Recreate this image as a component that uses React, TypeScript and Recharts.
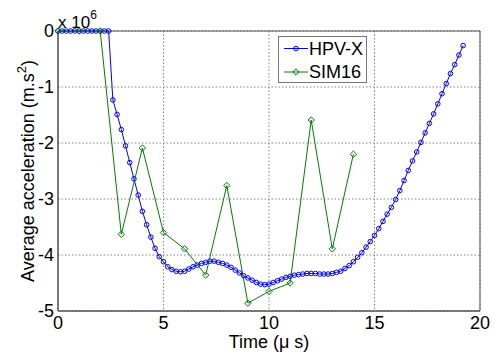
import React from 'react';
import {
  LineChart,
  Line,
  XAxis,
  YAxis,
  CartesianGrid,
  Legend,
  ReferenceArea,
  Customized,
} from 'recharts';

// time in microseconds, acceleration in units of 10^6 m.s^-2
const hpvTime = [
  0, 0.2, 0.4, 0.6, 0.8, 1.0, 1.2, 1.4, 1.6, 1.8, 2.0, 2.2, 2.4, 2.6, 2.8, 3.0,
  3.2, 3.4, 3.6, 3.8, 4.0, 4.2, 4.4, 4.6, 4.8, 5.0, 5.2, 5.4, 5.6, 5.8, 6.0,
  6.2, 6.4, 6.6, 6.8, 7.0, 7.2, 7.4, 7.6, 7.8, 8.0, 8.2, 8.4, 8.6, 8.8, 9.0,
  9.2, 9.4, 9.6, 9.8, 10.0, 10.2, 10.4, 10.6, 10.8, 11.0, 11.2, 11.4, 11.6,
  11.8, 12.0, 12.2, 12.4, 12.6, 12.8, 13.0, 13.2, 13.4, 13.6, 13.8, 14.0, 14.2,
  14.4, 14.6, 14.8, 15.0, 15.2, 15.4, 15.6, 15.8, 16.0, 16.2, 16.4, 16.6, 16.8,
  17.0, 17.2, 17.4, 17.6, 17.8, 18.0, 18.2, 18.4, 18.6, 18.8, 19.0, 19.2,
];
const hpvAccel = [
  0, 0, 0, 0, 0, 0, 0, 0, 0, 0, 0, 0, 0, -1.23, -1.49, -1.76,
  -2.05, -2.35, -2.64, -2.93, -3.22, -3.46, -3.68, -3.88, -4.03, -4.12, -4.21, -4.26, -4.29, -4.3, -4.29,
  -4.25, -4.21, -4.18, -4.15, -4.13, -4.11, -4.11, -4.13, -4.15, -4.18, -4.22, -4.27, -4.32, -4.37, -4.41,
  -4.45, -4.49, -4.52, -4.53, -4.52, -4.49, -4.46, -4.43, -4.4, -4.38, -4.36, -4.35, -4.34,
  -4.33, -4.33, -4.33, -4.34, -4.34, -4.34, -4.33, -4.31, -4.29, -4.24, -4.19, -4.12, -4.04,
  -3.96, -3.86, -3.76, -3.65, -3.53, -3.4, -3.27, -3.15, -3.01, -2.85, -2.67, -2.49, -2.32,
  -2.16, -1.99, -1.82, -1.65, -1.48, -1.3, -1.12, -0.94, -0.76, -0.6, -0.43, -0.26,
];

const simTime = [0, 1, 2, 3, 4, 5, 6, 7, 8, 9, 10, 11, 12, 13, 14];
const simAccel = [0, 0, 0, -3.63, -2.09, -3.6, -3.89, -4.36, -2.76, -4.86, -4.65, -4.5, -1.59, -3.89, -2.2];

const xTicks = [0, 5, 10, 15, 20];
const yTicks = [0, -1, -2, -3, -4, -5];

const hpvData = hpvTime.map((t, i) => ({ t, a: hpvAccel[i] }));
const simData = simTime.map((t, i) => ({ t, a: simAccel[i] }));

const BLUE = '#0000ff';
const GREEN = '#008000';
const FONT = '"Liberation Sans", Arial, sans-serif';

const Diamond = (props: any) => {
  const { cx, cy, index } = props;
  if (cx == null || cy == null) return <g key={index} />;
  const s = 3.2;
  return (
    <path
      key={index}
      d={`M${cx},${cy - s}L${cx + s},${cy}L${cx},${cy + s}L${cx - s},${cy}Z`}
      fill="none"
      stroke={GREEN}
      strokeWidth={1}
    />
  );
};

const LegendBox = () => (
  <div
    style={{
      width: 87,
      height: 45,
      background: '#fff',
      border: '1px solid #777',
      fontFamily: FONT,
      fontSize: 18,
      color: '#000',
      position: 'relative',
    }}
  >
    <svg width={30} height={45} style={{ position: 'absolute', left: 3, top: 0 }}>
      <line x1={2} y1={11.5} x2={26} y2={11.5} stroke={BLUE} strokeWidth={1} />
      <circle cx={14} cy={11.5} r={2.3} fill="none" stroke={BLUE} />
      <line x1={2} y1={35} x2={26} y2={35} stroke={GREEN} strokeWidth={1} />
      <path d="M14,31.8L17.2,35L14,38.2L10.8,35Z" fill="none" stroke={GREEN} />
    </svg>
    <div style={{ position: 'absolute', left: 30, top: 1, lineHeight: '22px' }}>HPV-X</div>
    <div style={{ position: 'absolute', left: 30, top: 24, lineHeight: '22px' }}>SIM16</div>
  </div>
);

const ScaleNote = () => (
  <text x={58} y={28} fontFamily={FONT} fontSize={17} fill="#000">
    x 10
    <tspan fontSize={12} dy={-9}>6</tspan>
  </text>
);

export default function App() {
  return (
    <div style={{ position: 'absolute', left: 0, top: 0, width: 495, height: 361, background: '#fff' }}>
      <LineChart
        width={495}
        height={361}
        margin={{ top: 31, right: 15, bottom: 0, left: 0 }}
      >
        <CartesianGrid stroke="#666" strokeDasharray="1.5 2" strokeWidth={0.8} />
        <XAxis
          type="number"
          dataKey="t"
          domain={[0, 20]}
          ticks={xTicks}
          height={50}
          stroke="#555"
          tickLine={false}
          tickSize={0}
          tickMargin={5}
          tick={{ fontSize: 18, fill: '#000', fontFamily: FONT }}
          label={{
            content: () => (
              <text x={269} y={348} textAnchor="middle" fontFamily={FONT} fontSize={18} fill="#000">
                Time (μ s)
              </text>
            ),
          }}
        />
        <YAxis
          type="number"
          domain={[-5, 0]}
          ticks={yTicks}
          width={58}
          stroke="#555"
          tickLine={false}
          tickSize={0}
          tickMargin={4}
          tick={{ fontSize: 18, fill: '#000', fontFamily: FONT }}
          label={{
            content: () => (
              <text
                x={34}
                y={171}
                transform="rotate(-90 34 171)"
                textAnchor="middle"
                fontFamily={FONT}
                fontSize={18}
                fill="#000"
              >
                Average acceleration (m.s
                <tspan fontSize={13} dy={-8}>2</tspan>
                <tspan dy={8}>)</tspan>
              </text>
            ),
          }}
        />
        <ReferenceArea x1={0} x2={20} y1={-5} y2={0} fill="none" stroke="#555" strokeWidth={1} ifOverflow="visible" />
        <Line
          data={hpvData}
          dataKey="a"
          name="HPV-X"
          stroke={BLUE}
          strokeWidth={1}
          dot={{ r: 2.3, fill: 'none', stroke: BLUE, strokeWidth: 1 }}
          activeDot={false}
          isAnimationActive={false}
        />
        <Line
          data={simData}
          dataKey="a"
          name="SIM16"
          stroke={GREEN}
          strokeWidth={1}
          dot={Diamond}
          activeDot={false}
          isAnimationActive={false}
        />
        <Legend
          layout="vertical"
          align="center"
          verticalAlign="middle"
          wrapperStyle={{ position: 'absolute', left: 278, top: 36, width: 89, height: 47 }}
          content={() => <LegendBox />}
        />
        <Customized component={ScaleNote} />
      </LineChart>
    </div>
  );
}
